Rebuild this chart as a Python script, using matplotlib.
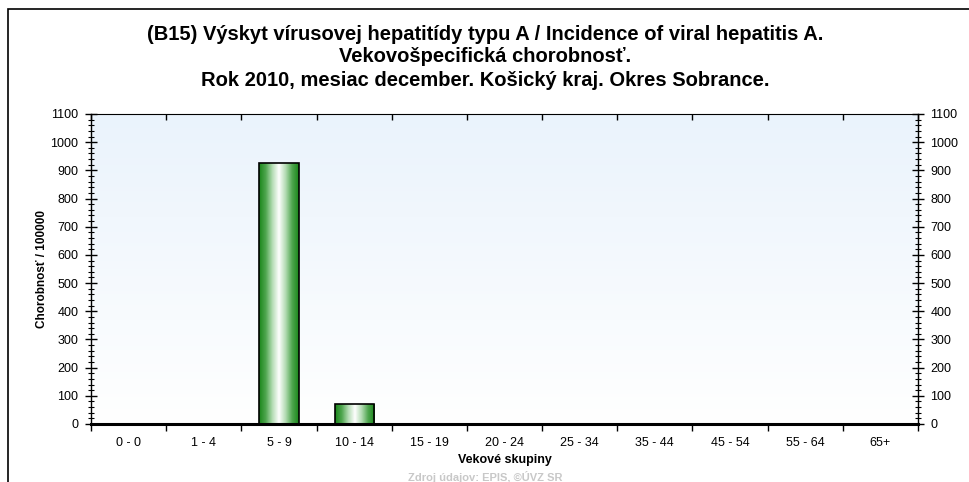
import numpy as np
import matplotlib
matplotlib.use('Agg')
import matplotlib.pyplot as plt
from matplotlib.colors import LinearSegmentedColormap
from matplotlib.patches import Rectangle
from matplotlib.ticker import MultipleLocator

plt.rcParams['font.family'] = ['Liberation Sans', 'DejaVu Sans']

# data
categories = ['0 - 0', '1 - 4', '5 - 9', '10 - 14', '15 - 19', '20 - 24',
              '25 - 34', '35 - 44', '45 - 54', '55 - 64', '65+']
values = [0, 0, 925, 71, 0, 0, 0, 0, 0, 0, 0]
title_lines = ['(B15) Výskyt vírusovej hepatitídy typu A / Incidence of viral hepatitis A.',
               'Vekovošpecifická chorobnosť.',
               'Rok 2010, mesiac december. Košický kraj. Okres Sobrance.']

W, H = 970, 482
fig = plt.figure(figsize=(W / 100, H / 100), dpi=100)
fig.patch.set_facecolor('white')

# outer frame (cropped at right and bottom)
fig.add_artist(Rectangle((8 / W, -0.1), 1.2, 1 - 9 / H + 0.1, transform=fig.transFigure,
                         fill=False, edgecolor='black', linewidth=1.2))

x0, x1, y0, y1 = 91, 918, 114, 424
ax = fig.add_axes([x0 / W, 1 - y1 / H, (x1 - x0) / W, (y1 - y0) / H])
n = len(categories)

# background gradient
bg = LinearSegmentedColormap.from_list('bg', ['#ffffff', '#eaf3fc'])
ax.imshow(np.linspace(0, 1, 256).reshape(-1, 1), cmap=bg, aspect='auto',
          extent=(-0.5, n - 0.5, 0, 1100), origin='lower', zorder=0)

# bars with a cylindrical green gradient
green = LinearSegmentedColormap.from_list(
    'g', ['#1a861a', '#4fa64f', '#b4dcb4', '#ffffff', '#b4dcb4', '#4fa64f', '#1a861a'])
grad = np.linspace(0, 1, 128).reshape(1, -1)
bw = 0.52
bars = ax.bar(range(n), values, width=bw, color='none', edgecolor='black',
              linewidth=1.2, zorder=3)
for b, v in zip(bars, values):
    if v <= 0:
        continue
    im = ax.imshow(grad, cmap=green, aspect='auto',
                   extent=(b.get_x(), b.get_x() + bw, 0, v), zorder=2)
    im.set_clip_path(b)

ax.set_xlim(-0.5, n - 0.5)
ax.set_ylim(0, 1100)

ax.spines['top'].set_linewidth(0.8)
ax.spines['bottom'].set_linewidth(2.2)
ax.spines['left'].set_linewidth(1.0)
ax.spines['right'].set_linewidth(1.0)

ax.set_xticks(np.arange(n))
ax.set_xticklabels(categories, fontsize=9)
ax.set_xticks(np.arange(-0.5, n, 1), minor=True)
ax.tick_params(axis='x', which='major', length=0, pad=9)
ax.tick_params(axis='x', which='minor', length=5, width=1.0, direction='out',
               bottom=True, top=False)
ax.yaxis.set_major_locator(MultipleLocator(100))
ax.yaxis.set_minor_locator(MultipleLocator(20))
ax.tick_params(axis='y', which='major', length=8, width=1.0, direction='inout',
               left=True, right=True, labelleft=True, labelright=True, labelsize=9, pad=5)
ax.tick_params(axis='y', which='minor', length=5, width=0.8, direction='inout',
               left=True, right=True)

# short inward ticks along the top edge
sec = ax.secondary_xaxis('top')
sec.set_xticks(np.arange(-0.5, n, 1))
sec.tick_params(direction='in', length=4, width=1.0, labeltop=False)
sec.spines['top'].set_visible(False)

ax.set_ylabel('Chorobnosť / 100000', fontsize=8.5, fontweight='bold', labelpad=2)
ax.set_xlabel('Vekové skupiny', fontsize=9, fontweight='bold', labelpad=4)

for i, line in enumerate(title_lines):
    fig.text(0.5, 1 - (34 + 23 * i) / H, line, ha='center', va='center',
             fontsize=14.5, fontweight='bold')
fig.text(0.5, 1 - 477 / H, 'Zdroj údajov: EPIS, ©ÚVZ SR', ha='center', va='center',
         fontsize=8, fontweight='bold', color='#c8c8c8')

fig.savefig('out.png', dpi=100)
